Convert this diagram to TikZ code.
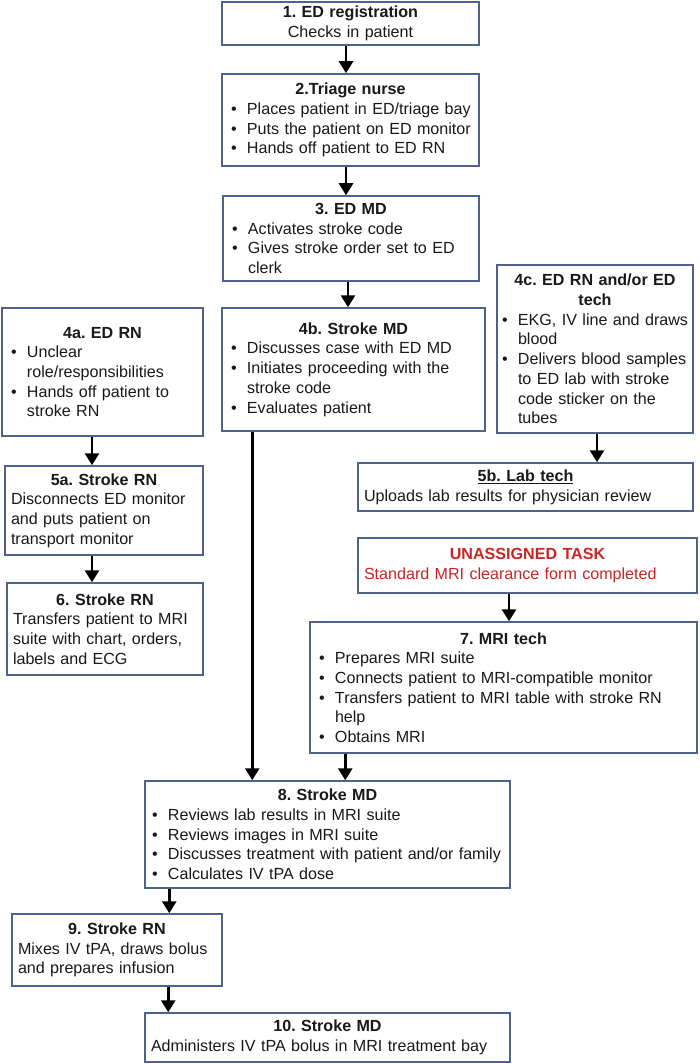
\documentclass[tikz,border=0pt]{standalone}
\usepackage{fontspec}
\setmainfont{Liberation Sans}
\usepackage{xcolor}
\usepackage{tikz}
\usetikzlibrary{arrows.meta}

\definecolor{boxblue}{RGB}{78,98,140}
\definecolor{alertred}{RGB}{200,38,38}
\setlength{\parindent}{0pt}
\setlength{\parskip}{0pt}
\frenchspacing
\hyphenpenalty=10000
\exhyphenpenalty=10000
\newcommand{\ttl}[1]{{\centering\bfseries #1\par}}
\newcommand{\itm}[1]{\par\hangindent=19pt\hangafter=1\makebox[19pt][l]{\hspace{3pt}\textbullet}#1}

\tikzset{
  task/.style={draw=boxblue, line width=1.5pt, fill=white, text=black!90,
    inner xsep=6pt, inner ysep=2pt, align=left,
    font=\fontsize{16.1}{19.7}\selectfont},
  flow/.style={line width=2.8pt, -{Triangle[length=12pt,width=14pt]}}
}

\begin{document}
\begin{tikzpicture}[x=1pt, y=-1pt]
    \useasboundingbox (0,0) rectangle (699,1064);

    \node[task, align=center, text width=245pt, minimum height=43pt] (reg) at (350.5,23.5)
        {\ttl{1. ED registration}Checks in patient};
    \node[task, text width=245pt, minimum height=92pt] (triage) at (350.5,120)
        {\ttl{2.Triage nurse}\itm{Places patient in ED/triage bay}\itm{Puts the patient on ED monitor}\itm{Hands off patient to ED RN}\par};
    \node[task, text width=244pt, minimum height=85pt] (edmd) at (351,238.5)
        {\ttl{3. ED MD}\itm{Activates stroke code}\itm{Gives stroke order set to ED\newline clerk}\par};
    \node[task, text width=189pt, minimum height=128pt] (edrn) at (102.5,372)
        {\ttl{4a. ED RN}\itm{Unclear\newline role/responsibilities}\itm{Hands off patient to\newline stroke RN}\par};
    \node[task, text width=251pt, minimum height=123pt] (strokemd) at (353.5,369.5)
        {\ttl{4b. Stroke MD}\itm{Discusses case with ED MD}\itm{Initiates proceeding with the\newline stroke code}\itm{Evaluates patient}\par};
    \node[task, inner xsep=2pt, text width=192pt, minimum height=168pt] (edtech) at (595,349)
        {\ttl{4c. ED RN and/or ED\\tech}\itm{EKG, IV line and draws\newline blood}\itm{Delivers blood samples\newline to ED lab with stroke\newline code sticker on the\newline tubes}\par};
    \node[task, text width=186pt, minimum height=89pt] (strokern) at (104,510.5)
        {\ttl{5a. Stroke RN}Disconnects ED monitor\newline and puts patient on\newline transport monitor};
    \node[task, text width=323pt, minimum height=48pt] (labtech) at (525.5,487)
        {\ttl{\underline{5b. Lab tech}}Uploads lab results for physician review};
    \node[task, text width=184pt, minimum height=92pt] (transfer) at (105,629)
        {\ttl{6. Stroke RN}Transfers patient to MRI\newline suite with chart, orders,\newline labels and ECG};
    \node[task, text=alertred, text width=327pt, minimum height=55pt] (unassigned) at (527.5,565.5)
        {\ttl{UNASSIGNED TASK}Standard MRI clearance form completed};
    \node[task, text width=375pt, minimum height=131pt] (mritech) at (503.5,687.5)
        {\ttl{7. MRI tech}\itm{Prepares MRI suite}\itm{Connects patient to MRI-compatible monitor}\itm{Transfers patient to MRI table with stroke RN\newline help}\itm{Obtains MRI}\par};
    \node[task, inner xsep=4pt, text width=357pt, minimum height=107pt] (review) at (327.5,834.5)
        {\ttl{8. Stroke MD}\itm{Reviews lab results in MRI suite}\itm{Reviews images in MRI suite}\itm{Discusses treatment with patient and/or family}\itm{Calculates IV tPA dose}\par};
    \node[task, text width=198pt, minimum height=72pt] (mixes) at (117,950)
        {\ttl{9. Stroke RN}Mixes IV tPA, draws bolus\newline and prepares infusion};
    \node[task, text width=353pt, minimum height=49pt] (bolus) at (327.5,1037.5)
        {\ttl{10. Stroke MD}Administers IV tPA bolus in MRI treatment bay};

    \draw[flow] ([xshift=-4.5pt]reg.south) -- ([xshift=-4.5pt]reg.south |- triage.north);
    \draw[flow] ([xshift=-4.5pt]triage.south) -- ([xshift=-4.5pt]triage.south |- edmd.north);
    \draw[flow] ([xshift=-3pt]edmd.south) -- ([xshift=-3pt]edmd.south |- strokemd.north);
    \draw[flow] ([xshift=-10.5pt]edrn.south) -- ([xshift=-10.5pt]edrn.south |- strokern.north);
    \draw[flow] ([xshift=-12pt]strokern.south) -- ([xshift=-12pt]strokern.south |- transfer.north);
    \draw[flow] ([xshift=2pt]edtech.south) -- ([xshift=2pt]edtech.south |- labtech.north);
    \draw[flow] ([xshift=-18.5pt]unassigned.south) -- ([xshift=-18.5pt]unassigned.south |- mritech.north);
    \draw[flow] ([xshift=31pt]strokemd.south west) -- ([xshift=31pt]strokemd.south west |- review.north);
    \draw[flow] ([xshift=36pt]mritech.south west) -- ([xshift=36pt]mritech.south west |- review.north);
    \draw[flow] ([xshift=25pt]review.south west) -- ([xshift=25pt]review.south west |- mixes.north);
    \draw[flow] ([xshift=157pt]mixes.south west) -- ([xshift=157pt]mixes.south west |- bolus.north);
\end{tikzpicture}
\end{document}
